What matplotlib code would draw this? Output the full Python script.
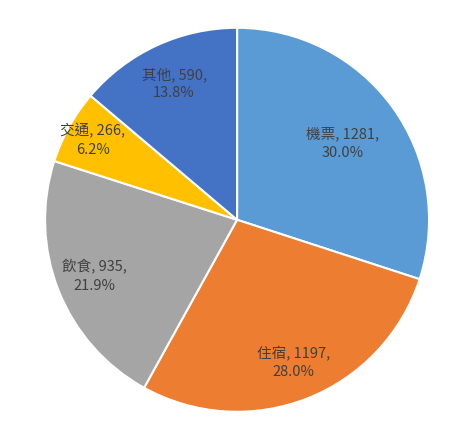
import matplotlib
matplotlib.use("Agg")
from matplotlib import pyplot as plt
import numpy as np

plt.rcParams['font.family'] = ['Noto Sans CJK TC', 'DejaVu Sans']

categories = ['機票', '住宿', '飲食', '交通', '其他']
values = [1281, 1197, 935, 266, 590]
colors = ['#5B9BD5', '#ED7D31', '#A5A5A5', '#FFC000', '#4472C4']
label_dist = [0.68, 0.8, 0.8, 0.86, 0.78]

total = sum(values)
labels = ['%s, %d,\n%.1f%%' % (c, v, v * 100.0 / total) for c, v in zip(categories, values)]

fig = plt.figure(figsize=(4.77, 4.44), dpi=100)
ax = fig.add_axes([0.497 - 0.4025, 0.505 - 0.4325, 0.805, 0.865])
wedges, texts = ax.pie(values, labels=labels, colors=colors, startangle=90,
                       counterclock=False, labeldistance=0.7,
                       wedgeprops=dict(edgecolor='white', linewidth=1.5),
                       textprops=dict(fontsize=10.5, color='#404040',
                                      ha='center', va='center'))
for w, t, d in zip(wedges, texts, label_dist):
    ang = np.deg2rad((w.theta1 + w.theta2) / 2)
    t.set_position((d * np.cos(ang), d * np.sin(ang)))
    t.set_horizontalalignment('center')
    t.set_verticalalignment('center')
    t.set_linespacing(1.4)
ax.set_xlim(-1, 1)
ax.set_ylim(-1, 1)
ax.set_aspect('equal')

fig.savefig('out.png', dpi=100)
